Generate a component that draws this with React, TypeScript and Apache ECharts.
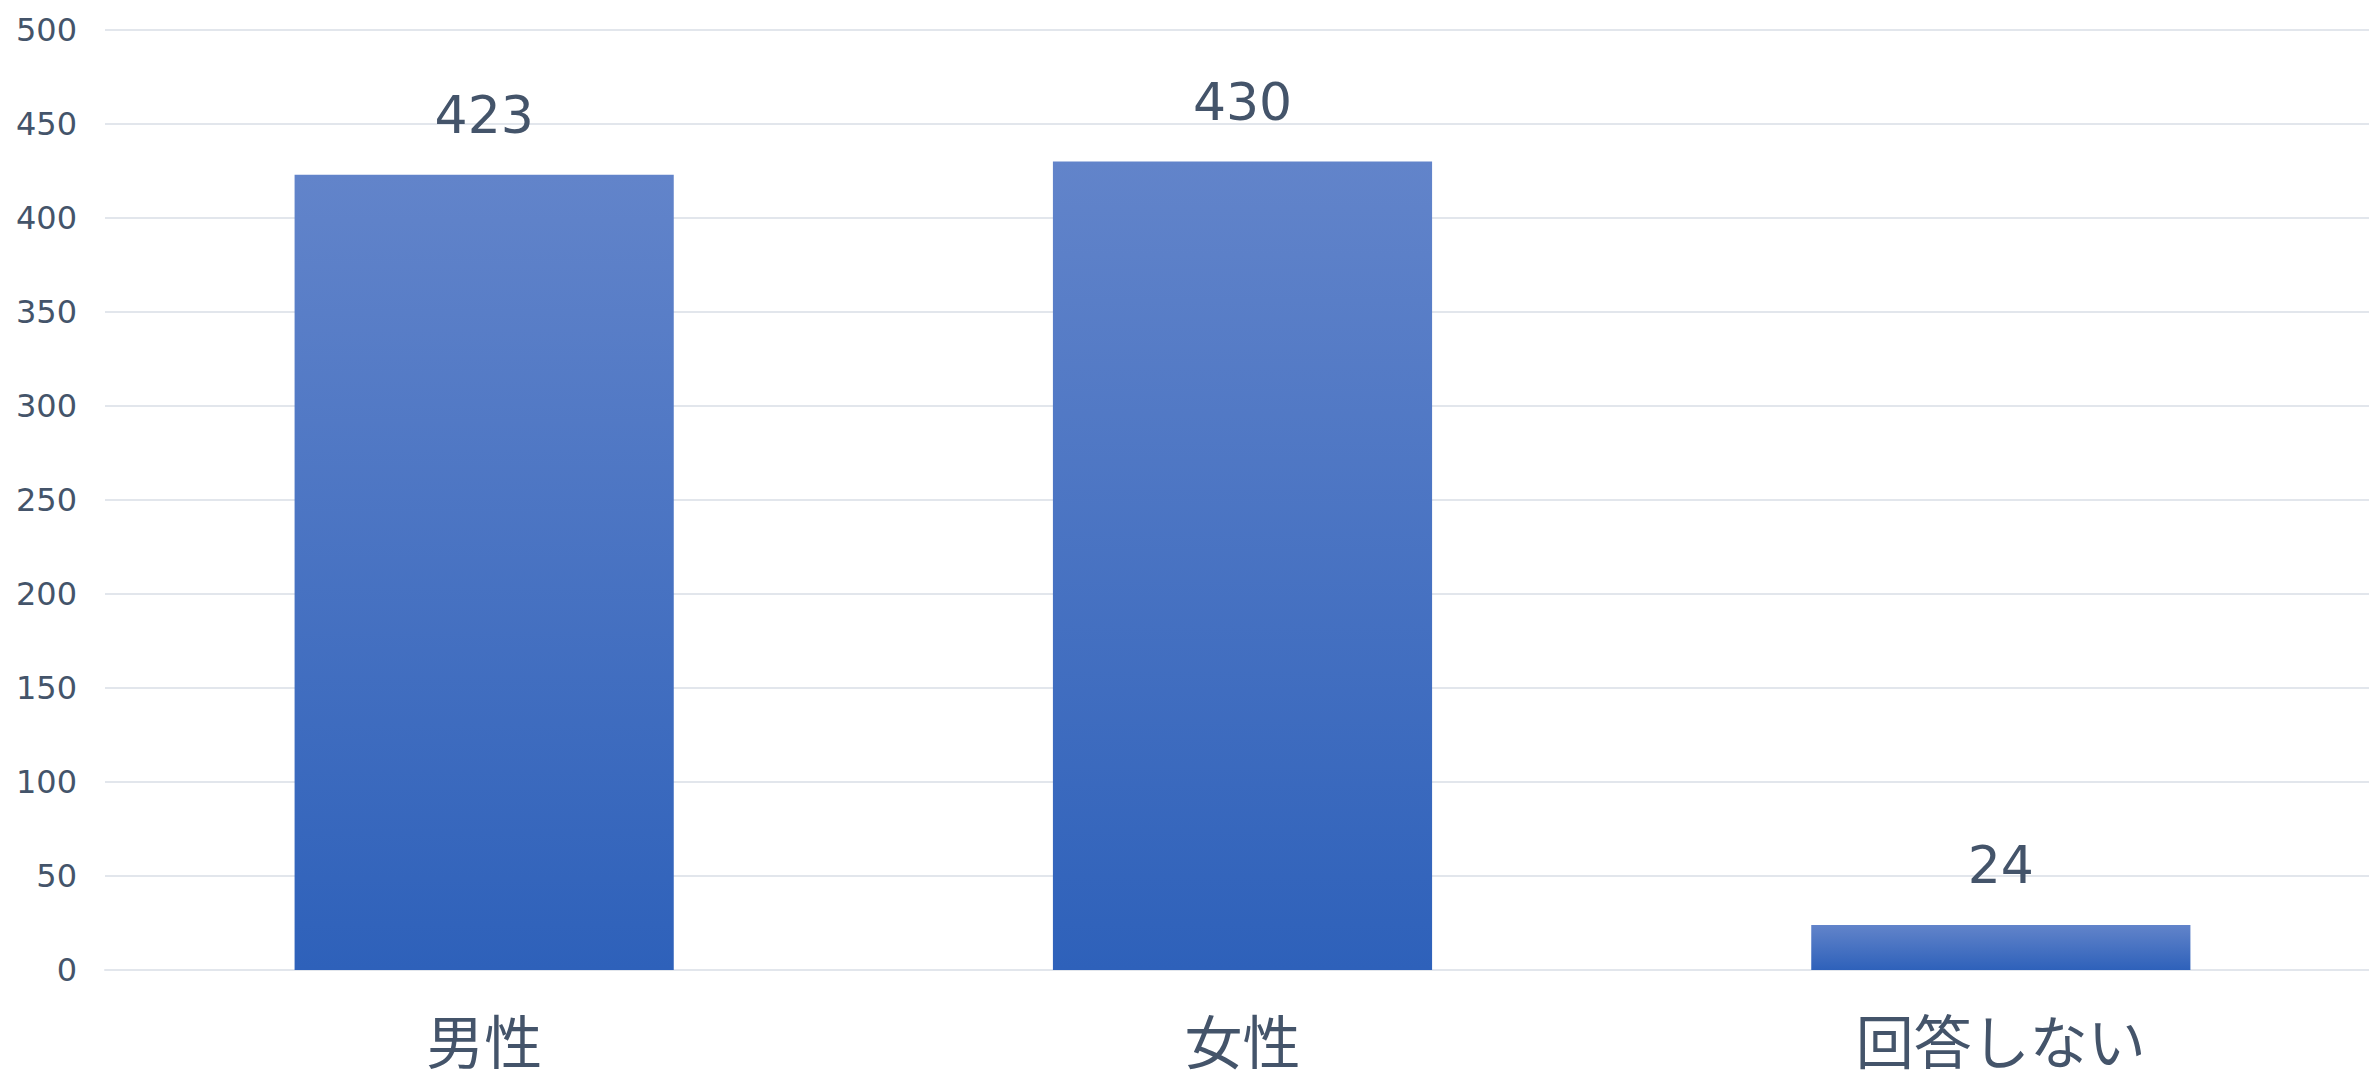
import React, { useEffect, useRef } from "react";
import * as echarts from "echarts";

const categories = ["男性", "女性", "回答しない"];
const counts = [423, 430, 24];
const yTicks = [0, 50, 100, 150, 200, 250, 300, 350, 400, 450, 500];

const NUM_FONT = "'DejaVu Sans', sans-serif";
const CJK_FONT = "'Noto Sans CJK JP', sans-serif";
const TEXT = "#44546A";

export default function App() {
  const ref = useRef<HTMLDivElement>(null);
  useEffect(() => {
    if (!ref.current) return;
    const chart = echarts.init(ref.current, undefined, { renderer: "svg" });
    chart.setOption({
      animation: false,
      backgroundColor: "#ffffff",
      grid: {
        left: 105,
        width: 2275,
        top: 30,
        height: 940,
        containLabel: false,
        outerBoundsMode: "none",
      },
      xAxis: {
        type: "category",
        data: categories,
        axisLine: { show: true, lineStyle: { color: "#E2E6EC", width: 2 } },
        axisTick: { show: false },
        axisLabel: {
          color: TEXT,
          fontSize: 58,
          lineHeight: 58,
          fontFamily: CJK_FONT,
          margin: 40,
        },
      },
      yAxis: {
        type: "value",
        min: yTicks[0],
        max: yTicks[yTicks.length - 1],
        interval: 50,
        axisLine: { show: false },
        axisTick: { show: false },
        splitLine: { lineStyle: { color: "#E2E6EC", width: 2 } },
        axisLabel: {
          color: TEXT,
          fontSize: 32,
          fontFamily: NUM_FONT,
          margin: 28,
          padding: [0, 0, 7, 0],
        },
      },
      series: [
        {
          type: "bar",
          data: counts,
          barWidth: "50%",
          itemStyle: {
            color: new echarts.graphic.LinearGradient(0, 0, 0, 1, [
              { offset: 0, color: "#6284CA" },
              { offset: 1, color: "#2E61BA" },
            ]),
          },
          label: {
            show: true,
            position: "top",
            distance: 34,
            color: TEXT,
            fontSize: 52,
            fontFamily: NUM_FONT,
          },
        },
      ],
    });
    return () => chart.dispose();
  }, []);
  return (
    <div
      ref={ref}
      style={{ position: "fixed", left: 0, top: 0, width: 2369, height: 1080, overflow: "hidden" }}
    />
  );
}
